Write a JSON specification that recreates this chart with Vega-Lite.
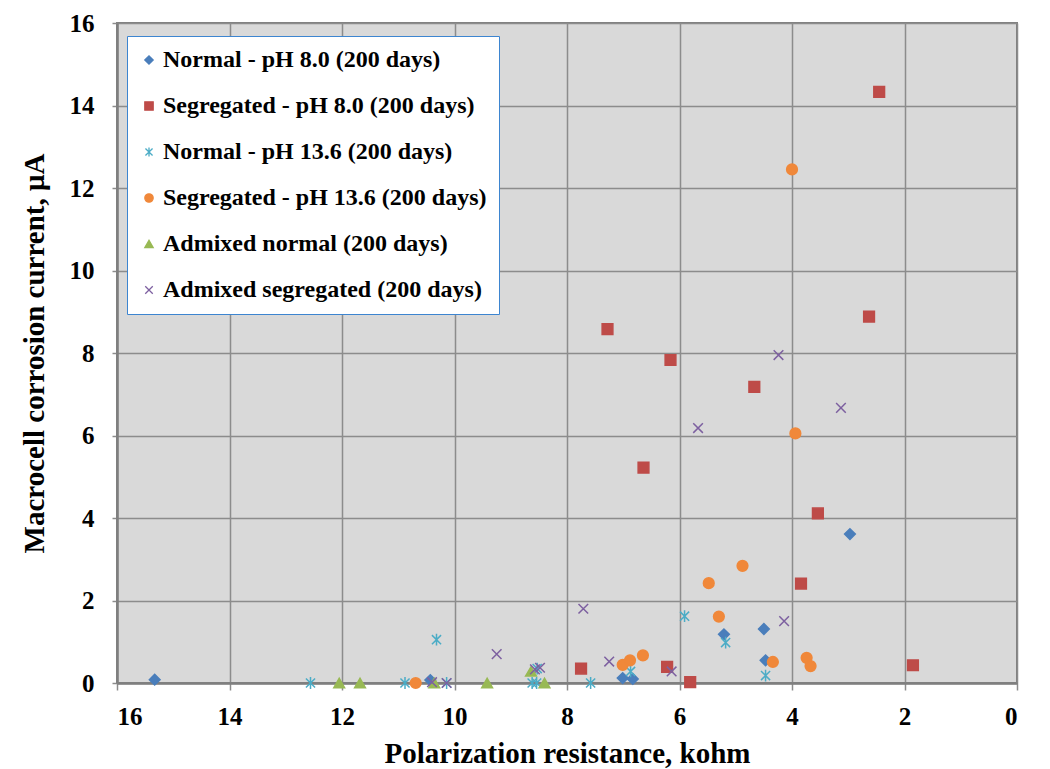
{
  "$schema": "https://vega.github.io/schema/vega-lite/v6.json",
  "width": 900,
  "height": 660,
  "autosize": {"type": "none"},
  "padding": {"left": 117, "top": 23, "right": 33, "bottom": 86},
  "background": "white",
  "config": {
    "font": "Liberation Serif",
    "view": {"fill": "#d9d9d9", "stroke": "#7f7f7f", "strokeWidth": 2},
    "axis": {
      "labelFont": "Liberation Serif",
      "labelFontWeight": "bold",
      "labelFontSize": 25,
      "labelColor": "black",
      "titleFont": "Liberation Serif",
      "titleFontWeight": "bold",
      "titleFontSize": 29,
      "titleColor": "black",
      "gridColor": "#8c8c8c",
      "gridWidth": 1.5,
      "domainColor": "#7f7f7f",
      "domainWidth": 2.5,
      "tickColor": "#8c8c8c",
      "tickWidth": 1.5
    }
  },
  "data": {
    "values": [
      {"series": "Normal - pH 8.0 (200 days)", "rp": 15.33, "i": 0.08},
      {"series": "Normal - pH 8.0 (200 days)", "rp": 10.43, "i": 0.07},
      {"series": "Normal - pH 8.0 (200 days)", "rp": 7.01, "i": 0.12},
      {"series": "Normal - pH 8.0 (200 days)", "rp": 6.83, "i": 0.1},
      {"series": "Normal - pH 8.0 (200 days)", "rp": 5.21, "i": 1.18},
      {"series": "Normal - pH 8.0 (200 days)", "rp": 4.5, "i": 1.31},
      {"series": "Normal - pH 8.0 (200 days)", "rp": 4.47, "i": 0.55},
      {"series": "Normal - pH 8.0 (200 days)", "rp": 2.97, "i": 3.61},

      {"series": "Segregated - pH 8.0 (200 days)", "rp": 2.45, "i": 14.33},
      {"series": "Segregated - pH 8.0 (200 days)", "rp": 7.28, "i": 8.58},
      {"series": "Segregated - pH 8.0 (200 days)", "rp": 6.16, "i": 7.83},
      {"series": "Segregated - pH 8.0 (200 days)", "rp": 4.67, "i": 7.18},
      {"series": "Segregated - pH 8.0 (200 days)", "rp": 2.63, "i": 8.88},
      {"series": "Segregated - pH 8.0 (200 days)", "rp": 6.64, "i": 5.22},
      {"series": "Segregated - pH 8.0 (200 days)", "rp": 3.54, "i": 4.11},
      {"series": "Segregated - pH 8.0 (200 days)", "rp": 3.84, "i": 2.41},
      {"series": "Segregated - pH 8.0 (200 days)", "rp": 1.85, "i": 0.43},
      {"series": "Segregated - pH 8.0 (200 days)", "rp": 7.75, "i": 0.35},
      {"series": "Segregated - pH 8.0 (200 days)", "rp": 6.22, "i": 0.39},
      {"series": "Segregated - pH 8.0 (200 days)", "rp": 5.81, "i": 0.02},

      {"series": "Normal - pH 13.6 (200 days)", "rp": 12.56, "i": 0},
      {"series": "Normal - pH 13.6 (200 days)", "rp": 10.88, "i": 0},
      {"series": "Normal - pH 13.6 (200 days)", "rp": 10.32, "i": 1.05},
      {"series": "Normal - pH 13.6 (200 days)", "rp": 10.14, "i": 0},
      {"series": "Normal - pH 13.6 (200 days)", "rp": 8.62, "i": 0},
      {"series": "Normal - pH 13.6 (200 days)", "rp": 8.54, "i": 0},
      {"series": "Normal - pH 13.6 (200 days)", "rp": 8.53, "i": 0.35},
      {"series": "Normal - pH 13.6 (200 days)", "rp": 7.58, "i": 0},
      {"series": "Normal - pH 13.6 (200 days)", "rp": 6.87, "i": 0.28},
      {"series": "Normal - pH 13.6 (200 days)", "rp": 5.91, "i": 1.62},
      {"series": "Normal - pH 13.6 (200 days)", "rp": 5.18, "i": 0.98},
      {"series": "Normal - pH 13.6 (200 days)", "rp": 4.47, "i": 0.18},

      {"series": "Segregated - pH 13.6 (200 days)", "rp": 10.69, "i": 0},
      {"series": "Segregated - pH 13.6 (200 days)", "rp": 7.01, "i": 0.44},
      {"series": "Segregated - pH 13.6 (200 days)", "rp": 6.88, "i": 0.55},
      {"series": "Segregated - pH 13.6 (200 days)", "rp": 6.65, "i": 0.67},
      {"series": "Segregated - pH 13.6 (200 days)", "rp": 5.48, "i": 2.42},
      {"series": "Segregated - pH 13.6 (200 days)", "rp": 5.3, "i": 1.61},
      {"series": "Segregated - pH 13.6 (200 days)", "rp": 4.88, "i": 2.84},
      {"series": "Segregated - pH 13.6 (200 days)", "rp": 4.34, "i": 0.51},
      {"series": "Segregated - pH 13.6 (200 days)", "rp": 4.0, "i": 12.45},
      {"series": "Segregated - pH 13.6 (200 days)", "rp": 3.94, "i": 6.05},
      {"series": "Segregated - pH 13.6 (200 days)", "rp": 3.74, "i": 0.61},
      {"series": "Segregated - pH 13.6 (200 days)", "rp": 3.67, "i": 0.41},

      {"series": "Admixed normal (200 days)", "rp": 12.05, "i": 0},
      {"series": "Admixed normal (200 days)", "rp": 11.68, "i": 0},
      {"series": "Admixed normal (200 days)", "rp": 10.36, "i": 0},
      {"series": "Admixed normal (200 days)", "rp": 9.42, "i": 0},
      {"series": "Admixed normal (200 days)", "rp": 8.64, "i": 0.28},
      {"series": "Admixed normal (200 days)", "rp": 8.4, "i": 0},

      {"series": "Admixed segregated (200 days)", "rp": 10.4, "i": 0.02},
      {"series": "Admixed segregated (200 days)", "rp": 10.14, "i": 0},
      {"series": "Admixed segregated (200 days)", "rp": 9.25, "i": 0.7},
      {"series": "Admixed segregated (200 days)", "rp": 8.57, "i": 0.33},
      {"series": "Admixed segregated (200 days)", "rp": 8.48, "i": 0.37},
      {"series": "Admixed segregated (200 days)", "rp": 7.71, "i": 1.8},
      {"series": "Admixed segregated (200 days)", "rp": 7.25, "i": 0.52},
      {"series": "Admixed segregated (200 days)", "rp": 6.14, "i": 0.28},
      {"series": "Admixed segregated (200 days)", "rp": 5.67, "i": 6.18},
      {"series": "Admixed segregated (200 days)", "rp": 4.24, "i": 7.95},
      {"series": "Admixed segregated (200 days)", "rp": 4.14, "i": 1.5},
      {"series": "Admixed segregated (200 days)", "rp": 3.13, "i": 6.67}
    ]
  },
  "mark": {"type": "point", "filled": true, "opacity": 1, "strokeWidth": 1.5, "size": 115, "clip": false},
  "encoding": {
    "x": {
      "field": "rp",
      "type": "quantitative",
      "title": "Polarization resistance, kohm",
      "scale": {"domain": [0, 16], "reverse": true, "nice": false},
      "axis": {"values": [0, 2, 4, 6, 8, 10, 12, 14, 16], "tickSize": 7, "labelPadding": 14, "titlePadding": 10, "labelFont": "Liberation Serif", "titleFont": "Liberation Serif"}
    },
    "y": {
      "field": "i",
      "type": "quantitative",
      "title": "Macrocell corrosion current, μA",
      "scale": {"domain": [0, 16], "nice": false},
      "axis": {"values": [0, 2, 4, 6, 8, 10, 12, 14, 16], "tickSize": 5, "labelPadding": 18, "titlePadding": 20, "labelFont": "Liberation Serif", "titleFont": "Liberation Serif"}
    },
    "color": {
      "field": "series",
      "type": "nominal",
      "scale": {
        "domain": ["Normal - pH 8.0 (200 days)", "Segregated - pH 8.0 (200 days)", "Normal - pH 13.6 (200 days)", "Segregated - pH 13.6 (200 days)", "Admixed normal (200 days)", "Admixed segregated (200 days)"],
        "range": ["#4a7ebb", "#be4b48", "#4bacc6", "#f0883a", "#98b954", "#7d60a0"]
      },
      "legend": {
        "title": null,
        "orient": "none",
        "legendX": 10,
        "legendY": 13,
        "fillColor": "white",
        "strokeColor": "#3d85d0",
        "padding": 12,
        "labelFont": "Liberation Serif",
        "labelFontWeight": "bold",
        "labelFontSize": 24,
        "labelColor": "black",
        "labelLimit": 500,
        "rowPadding": 22,
        "symbolSize": 70,
        "symbolStrokeWidth": 1.3,
        "labelOffset": 2,
        "symbolOffset": -2
      }
    },
    "stroke": {
      "field": "series",
      "type": "nominal",
      "scale": {
        "domain": ["Normal - pH 8.0 (200 days)", "Segregated - pH 8.0 (200 days)", "Normal - pH 13.6 (200 days)", "Segregated - pH 13.6 (200 days)", "Admixed normal (200 days)", "Admixed segregated (200 days)"],
        "range": ["#4a7ebb", "#be4b48", "#4bacc6", "#f0883a", "#98b954", "#7d60a0"]
      },
      "legend": null
    },
    "shape": {
      "field": "series",
      "type": "nominal",
      "scale": {
        "domain": ["Normal - pH 8.0 (200 days)", "Segregated - pH 8.0 (200 days)", "Normal - pH 13.6 (200 days)", "Segregated - pH 13.6 (200 days)", "Admixed normal (200 days)", "Admixed segregated (200 days)"],
        "range": ["diamond", "square", "M-0.85,-0.85L0.85,0.85M-0.85,0.85L0.85,-0.85M0,-1.1L0,1.1", "circle", "triangle-up", "M-0.9,-0.9L0.9,0.9M-0.9,0.9L0.9,-0.9"]
      },
      "legend": null
    }
  }
}
